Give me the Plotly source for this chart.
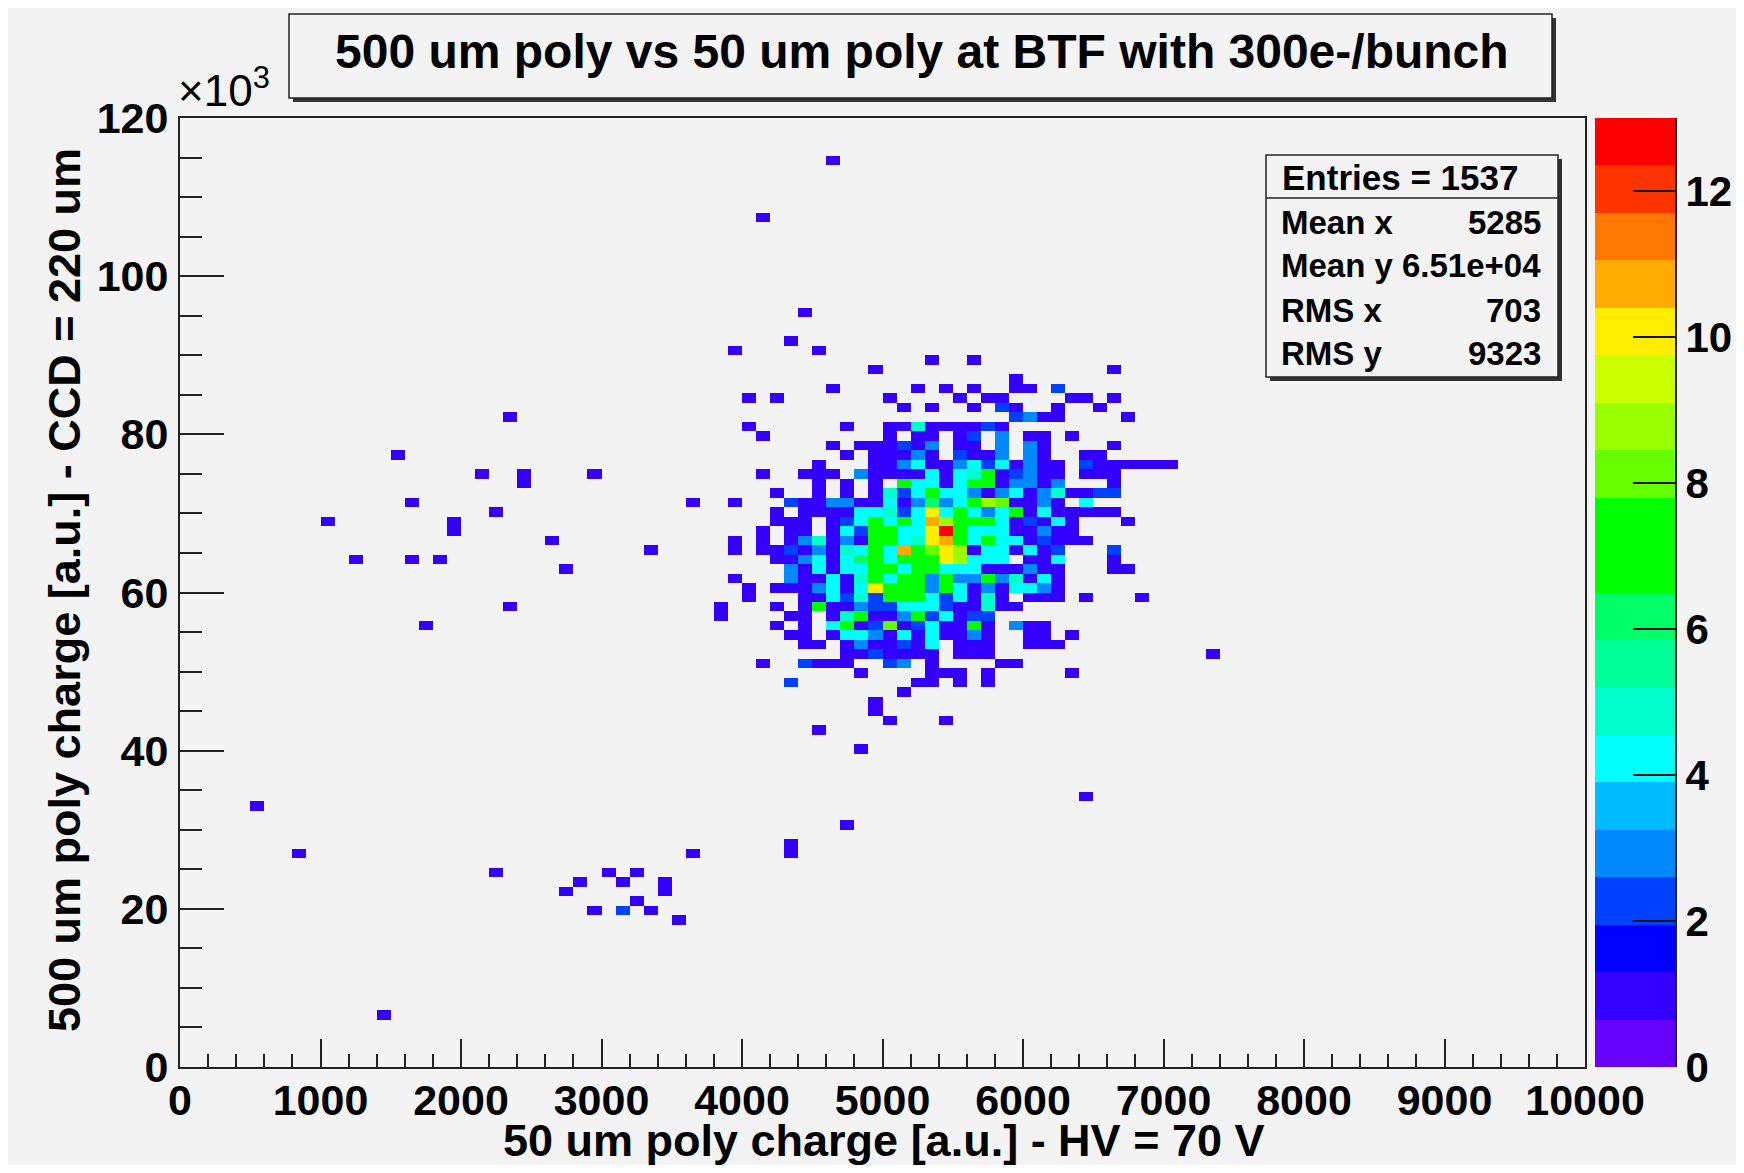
import plotly.graph_objects as go

# ---------------- text / labels ----------------
TITLE = "500 um poly vs 50 um poly at BTF with 300e-/bunch"
X_TITLE = "50 um poly charge [a.u.] - HV = 70 V"
Y_TITLE = "500 um poly charge [a.u.] - CCD = 220 um"

X_TICKS = [0, 1000, 2000, 3000, 4000, 5000, 6000, 7000, 8000, 9000, 10000]
X_TICK_LABELS = ["0", "1000", "2000", "3000", "4000", "5000", "6000", "7000", "8000", "9000", "10000"]
Y_TICKS = [0, 20000, 40000, 60000, 80000, 100000, 120000]
Y_TICK_LABELS = ["0", "20", "40", "60", "80", "100", "120"]
Z_TICKS = [0, 2, 4, 6, 8, 10, 12]

STATS_HEADER = "Entries = 1537"
STATS_LABELS = ["Mean x", "Mean y", "RMS x", "RMS y"]
STATS_VALUES = ["5285", "6.51e+04", "703", "9323"]

# ---------------- histogram binning ----------------
NX, X_LO, X_HI = 100, 0, 10000
NY, Y_LO, Y_HI = 100, 0, 120000
Z_MIN, Z_MAX = 0, 13

# ---------------- bin contents ----------------
# dense core: one string per y-bin, from y-bin 76 (top) down to 36,
# columns are x-bins 38..70; '.' = empty, digits/letters = counts (base 36)
CORE_FIRST_XBIN = 38
CORE_TOP_YBIN = 76
CORE_ROWS = [
    ".....1.... .......... .......... ...",  # 76
    ".1.....1.. .......... .......... ...",  # 75
    ".......... .....1..1. .......... ...",  # 74
    ".......... .1........ ........1. ...",  # 73
    ".......... .......... .1........ ...",  # 72
    "........1. ....1.1.1. .11.2..... ...",  # 71
    "..1.1..... ..1....1.1 1....11.1. ...",  # 70
    ".......... ...1.1..1. 21..1..1.. ...",  # 69
    ".......... .......... .2311....1 ...",  # 68
    "..1......1 ..11511112 1......... ...",  # 67
    "...1...... ..1.11.12. 3.11.1.... ...",  # 66
    "........1. 111213.11. 3.31....1. ...",  # 65
    ".........1 .11131.211 3.31..11.. ...",  # 64
    ".......1.. .113411342 41311.2111 111",  # 63
    "...1..111. 3111141457 12311.111. ...",  # 62
    ".......1.1 .1.7441477 13313...1. ...",  # 61
    "....1..1.1 .152474431 341351122. ...",  # 60
    ".1...21133 1141363479 81131.4... ...",  # 59
    "....1.1111 44524a4743 471411111. ...",  # 58
    "....111.12 47474b9777 412141...1 ...",  # 57
    "...1.11.14 27744ad744 411311.... ...",  # 56
    ".1.1.13513 17745ab747 4412111... ...",  # 55
    ".1.1121315 474b78a914 41412...2. ...",  # 54
    "....113414 674777a944 4.114...1. ...",  # 53
    ".....31414 4774774441 11311...11 ...",  # 52
    ".1...31141 5747737337 35141..... ...",  # 51
    "..1.111341 4a77737413 14431..... ...",  # 50
    "..1...1142 5277742415 1.111.1... 1..",  # 49
    "1...1.1711 3224442115 11........ ...",  # 48
    "1....11.15 7113724122 .......... ...",  # 47
    "....1.1.47 1281241171 .311...... ...",  # 46
    ".....11.14 4314141131 ..11.1.... ...",  # 45
    "......11.1 311214.111 ..111..... ...",  # 44
    ".........1 121111.111 .......... ...",  # 43
    "...1..2111 ..23.1.... 11........ ...",  # 42
    ".......... 1....111.1 .....1.... ...",  # 41
    ".....2.... ....11.1.1 .......... ...",  # 40
    ".......... ...1...... .......... ...",  # 39
    ".......... .1........ .......... ...",  # 38
    ".......... .1........ .......... ...",  # 37
    ".......... ..1...1... .......... ...",  # 36
]

# isolated entries outside the core (charge values inside the bin, and count)
OUT_X = [4650, 4150, 4450, 2350, 1550, 2150, 2450, 2450, 2950, 3650, 1650, 1050,
         1950, 1950, 2250, 2650, 3350, 1250, 1650, 1850, 2750, 2350, 1750, 7350,
         4550, 4850, 6450, 4750, 4350, 4350, 3650, 850, 550, 2250, 2750, 2850,
         3050, 3150, 3250, 3450, 3450, 3250, 2950, 3150, 3350, 3550, 1450]
OUT_Y = [114600, 107400, 95400, 82200, 77400, 75000, 73800, 75000, 75000, 71400,
         71400, 69000, 67800, 69000, 70200, 66600, 65400, 64200, 64200, 64200,
         63000, 58200, 55800, 52200, 42600, 40200, 34200, 30600, 28200, 27000,
         27000, 27000, 33000, 24600, 22200, 23400, 24600, 23400, 24600, 22200,
         23400, 21000, 19800, 19800, 19800, 18600, 6600]
OUT_N = [1, 1, 1, 1, 1, 1, 1, 1, 1, 1, 1, 1, 1, 1, 1, 1, 1, 1, 1, 1, 1, 1, 1, 1,
         1, 1, 1, 1, 1, 1, 1, 1, 1, 1, 1, 1, 1, 1, 1, 1, 1, 1, 1, 2, 1, 1, 1]

# ROOT-like 20-level rainbow palette
PALETTE = ["#6600ff", "#3300ff", "#0000ff", "#0040ff", "#0088ff",
           "#00bbff", "#00ffff", "#00ffcc", "#00ff99", "#00ff66",
           "#00ff00", "#00ff00", "#66ff00", "#99ff00", "#ccff00",
           "#ffee00", "#ffaa00", "#ff7700", "#ff3300", "#ff0000"]

# ---------------- build the 2D histogram ----------------
XW = (X_HI - X_LO) / NX
YW = (Y_HI - Y_LO) / NY
counts = [[0] * NX for _ in range(NY)]
for r, row in enumerate(CORE_ROWS):
    j = CORE_TOP_YBIN - r
    for c, ch in enumerate(row.replace(" ", "")):
        if ch != ".":
            counts[j][CORE_FIRST_XBIN + c] += int(ch, 36)
for xv, yv, n in zip(OUT_X, OUT_Y, OUT_N):
    counts[int((yv - Y_LO) // YW)][int((xv - X_LO) // XW)] += n

z = [[v if v > 0 else None for v in row] for row in counts]
x_centers = [X_LO + (i + 0.5) * XW for i in range(NX)]
y_centers = [Y_LO + (j + 0.5) * YW for j in range(NY)]

NLEV = len(PALETTE)
colorscale = []
for k, col in enumerate(PALETTE):
    colorscale.append([k / NLEV, col])
    colorscale.append([(k + 1) / NLEV, col])
level_centers = [Z_MIN + (k + 0.5) * (Z_MAX - Z_MIN) / NLEV for k in range(NLEV)]

# ---------------- layout geometry (reference pixels) ----------------
OFF = 8                      # default page margin of the html body
W, H = 1744 - 2 * OFF, 1173 - 2 * OFF
PL, PR, PT, PB = 180, 1585, 118, 1067      # main frame
BAR_L, BAR_R = 1595, 1675                  # palette
BG = "#f3f3f3"
FONT = "Liberation Sans, Arial, Helvetica, sans-serif"
REG_L, REG_R = PL, BAR_R                   # paper region


def fx(p):
    return (p - REG_L) / (REG_R - REG_L)


def fy(p):
    return (PB - p) / (PB - PT)


fig = go.Figure()
fig.add_trace(go.Heatmap(
    x=x_centers, y=y_centers, z=z,
    zmin=Z_MIN, zmax=Z_MAX, colorscale=colorscale, zsmooth=False,
    hoverinfo="skip", showscale=False, xaxis="x", yaxis="y",
))
# palette (colour scale) drawn as its own little heatmap
fig.add_trace(go.Heatmap(
    x=[0.5], y=level_centers, z=[[v] for v in level_centers],
    zmin=Z_MIN, zmax=Z_MAX, colorscale=colorscale, zsmooth=False,
    hoverinfo="skip", showscale=False, xaxis="x2", yaxis="y2",
))

tick_font = dict(family=FONT, size=43, color="black", weight="bold")
axis_common = dict(
    showgrid=False, zeroline=False, showline=True, mirror=True, automargin=False,
    linecolor="#222222", linewidth=2, ticks="inside", tickcolor="#222222",
    tickwidth=2, tickmode="array", tickfont=tick_font,
)

fig.update_layout(
    xaxis=dict(**axis_common, domain=[0, fx(PR)], anchor="y",
               range=[X_LO, X_HI], tickvals=X_TICKS, ticktext=X_TICK_LABELS,
               ticklen=28, ticklabelstandoff=-6,
               minor=dict(dtick=200, ticklen=13, tickwidth=1.5, ticks="inside",
                          tickcolor="#222222", showgrid=False)),
    yaxis=dict(**axis_common, domain=[0, 1], anchor="x",
               range=[Y_LO, Y_HI], tickvals=Y_TICKS, ticktext=Y_TICK_LABELS,
               ticklen=44, ticklabelstandoff=1,
               minor=dict(dtick=5000, ticklen=22, tickwidth=1.5, ticks="inside",
                          tickcolor="#222222", showgrid=False)),
    xaxis2=dict(domain=[fx(BAR_L), 1], anchor="y2", range=[0, 1], visible=False,
                automargin=False),
    yaxis2=dict(domain=[0, 1], anchor="x2", side="right", range=[Z_MIN, Z_MAX],
                automargin=False, showgrid=False, zeroline=False, showline=True,
                linecolor="#222222", linewidth=2,
                tickmode="array", tickvals=Z_TICKS,
                ticktext=[str(v) for v in Z_TICKS],
                ticks="inside", ticklen=42, tickwidth=2, tickcolor="#111111",
                ticklabelstandoff=0,
                tickfont=dict(family=FONT, size=42, color="black", weight="bold")),
)

shapes = [
    # title box with shadow
    dict(type="rect", xref="paper", yref="paper", x0=fx(293), x1=fx(1556),
         y0=fy(102), y1=fy(18), fillcolor="#333333", line=dict(width=0)),
    dict(type="rect", xref="paper", yref="paper", x0=fx(289), x1=fx(1552),
         y0=fy(98), y1=fy(14), fillcolor=BG, line=dict(color="#222222", width=1.5)),
    # stats box with shadow
    dict(type="rect", xref="paper", yref="paper", x0=fx(1270), x1=fx(1562),
         y0=fy(381), y1=fy(159), fillcolor="#333333", line=dict(width=0)),
    dict(type="rect", xref="paper", yref="paper", x0=fx(1266), x1=fx(1558),
         y0=fy(377), y1=fy(155), fillcolor=BG, line=dict(color="#222222", width=1.5)),
    dict(type="line", xref="paper", yref="paper", x0=fx(1266), x1=fx(1558),
         y0=fy(198), y1=fy(198), line=dict(color="#222222", width=1.5)),
]

ann = []
ann.append(dict(text=TITLE, x=fx(922), y=fy(52), xref="paper", yref="paper",
                showarrow=False, xanchor="center", yanchor="middle",
                font=dict(family=FONT, size=48, color="black", weight="bold")))
ann.append(dict(text="×10<sup>3</sup>", x=fx(176), y=fy(88), xref="paper", yref="paper",
                showarrow=False, xanchor="left", yanchor="middle",
                font=dict(family=FONT, size=44, color="black")))
ann.append(dict(text=X_TITLE, x=fx(883), y=fy(1140), xref="paper", yref="paper",
                showarrow=False, xanchor="center", yanchor="middle",
                font=dict(family=FONT, size=45, color="black", weight="bold")))
ann.append(dict(text=Y_TITLE, x=fx(64), y=fy(590), xref="paper", yref="paper",
                showarrow=False, xanchor="center", yanchor="middle", textangle=-90,
                font=dict(family=FONT, size=45, color="black", weight="bold")))
ann.append(dict(text=STATS_HEADER, x=fx(1400), y=fy(177), xref="paper", yref="paper",
                showarrow=False, xanchor="center", yanchor="middle",
                font=dict(family=FONT, size=35, color="black", weight="bold")))
stat_font = dict(family=FONT, size=33, color="black", weight="bold")
row_y = [222, 265, 310, 353]
for lab, val, py in zip(STATS_LABELS, STATS_VALUES, row_y):
    ann.append(dict(text=lab, x=fx(1279), y=fy(py), xref="paper", yref="paper",
                    showarrow=False, xanchor="left", yanchor="middle", font=stat_font))
    ann.append(dict(text=val, x=fx(1543), y=fy(py), xref="paper", yref="paper",
                    showarrow=False, xanchor="right", yanchor="middle", font=stat_font))

fig.update_layout(
    width=W, height=H, autosize=False,
    margin=dict(l=PL - OFF, r=W - (BAR_R - OFF), t=PT - OFF, b=H - (PB - OFF), pad=0),
    paper_bgcolor=BG, plot_bgcolor=BG,
    shapes=shapes, annotations=ann, hovermode=False, showlegend=False,
)

fig.write_html("out.html")
